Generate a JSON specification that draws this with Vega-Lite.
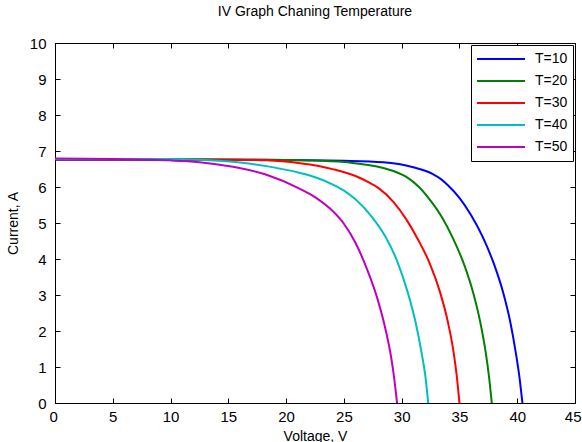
{
  "$schema": "https://vega.github.io/schema/vega-lite/v6.json",
  "autosize": {"type": "none"},
  "padding": {"left": 55, "top": 43, "right": 7, "bottom": 39},
  "width": 520,
  "height": 360,
  "background": "white",
  "config": {
    "view": {"stroke": "#000000", "strokeWidth": 1},
    "font": "Liberation Sans",
    "axis": {
      "domainColor": "#000000",
      "tickColor": "#000000",
      "labelColor": "#000000",
      "titleColor": "#000000",
      "labelFont": "Liberation Sans",
      "titleFont": "Liberation Sans",
      "labelFontSize": 15,
      "titleFontSize": 14,
      "titleFontWeight": "normal",
      "grid": false,
      "tickSize": -5,
      "domain": true
    }
  },
  "title": {
    "text": "IV Graph Chaning Temperature",
    "font": "Liberation Sans",
    "fontSize": 14,
    "fontWeight": "normal",
    "color": "#000000",
    "offset": 17
  },
  "resolve": {"axis": {"x": "independent", "y": "independent"}},
  "data": {
    "values": [
      {"T": "T=10", "V": 0, "I": 6.76}, {"T": "T=10", "V": 10, "I": 6.76}, {"T": "T=10", "V": 20, "I": 6.75}, {"T": "T=10", "V": 25, "I": 6.73},
      {"T": "T=10", "V": 28.4, "I": 6.69}, {"T": "T=10", "V": 31.0, "I": 6.55}, {"T": "T=10", "V": 32.7, "I": 6.36}, {"T": "T=10", "V": 33.4, "I": 6.22},
      {"T": "T=10", "V": 34.0, "I": 6.05}, {"T": "T=10", "V": 35.0, "I": 5.70}, {"T": "T=10", "V": 36.0, "I": 5.22}, {"T": "T=10", "V": 37.0, "I": 4.62},
      {"T": "T=10", "V": 38.0, "I": 3.85}, {"T": "T=10", "V": 38.8, "I": 3.05}, {"T": "T=10", "V": 39.4, "I": 2.25}, {"T": "T=10", "V": 39.9, "I": 1.35},
      {"T": "T=10", "V": 40.2, "I": 0.70}, {"T": "T=10", "V": 40.45, "I": 0},

      {"T": "T=20", "V": 0, "I": 6.77}, {"T": "T=20", "V": 10, "I": 6.77}, {"T": "T=20", "V": 20, "I": 6.75}, {"T": "T=20", "V": 23, "I": 6.73},
      {"T": "T=20", "V": 25.5, "I": 6.68}, {"T": "T=20", "V": 28.4, "I": 6.53}, {"T": "T=20", "V": 29.4, "I": 6.43}, {"T": "T=20", "V": 30.4, "I": 6.28},
      {"T": "T=20", "V": 31.5, "I": 6.00}, {"T": "T=20", "V": 32.5, "I": 5.62}, {"T": "T=20", "V": 33.5, "I": 5.15}, {"T": "T=20", "V": 34.4, "I": 4.60},
      {"T": "T=20", "V": 35.4, "I": 3.85}, {"T": "T=20", "V": 36.2, "I": 3.05}, {"T": "T=20", "V": 36.8, "I": 2.25}, {"T": "T=20", "V": 37.3, "I": 1.35},
      {"T": "T=20", "V": 37.55, "I": 0.75}, {"T": "T=20", "V": 37.8, "I": 0},

      {"T": "T=30", "V": 0, "I": 6.77}, {"T": "T=30", "V": 10, "I": 6.77}, {"T": "T=30", "V": 15, "I": 6.76}, {"T": "T=30", "V": 18.3, "I": 6.74},
      {"T": "T=30", "V": 21.2, "I": 6.66}, {"T": "T=30", "V": 22.7, "I": 6.59}, {"T": "T=30", "V": 24.1, "I": 6.49}, {"T": "T=30", "V": 26.4, "I": 6.25},
      {"T": "T=30", "V": 27.2, "I": 6.12}, {"T": "T=30", "V": 28.0, "I": 5.97}, {"T": "T=30", "V": 29.3, "I": 5.58}, {"T": "T=30", "V": 30.4, "I": 5.10},
      {"T": "T=30", "V": 31.4, "I": 4.55}, {"T": "T=30", "V": 32.4, "I": 3.90}, {"T": "T=30", "V": 33.3, "I": 3.10}, {"T": "T=30", "V": 34.0, "I": 2.25},
      {"T": "T=30", "V": 34.5, "I": 1.40}, {"T": "T=30", "V": 34.75, "I": 0.80}, {"T": "T=30", "V": 35.0, "I": 0},

      {"T": "T=40", "V": 0, "I": 6.78}, {"T": "T=40", "V": 10, "I": 6.78}, {"T": "T=40", "V": 12.5, "I": 6.76}, {"T": "T=40", "V": 15.4, "I": 6.70},
      {"T": "T=40", "V": 18.3, "I": 6.58}, {"T": "T=40", "V": 21.2, "I": 6.39}, {"T": "T=40", "V": 22.7, "I": 6.25}, {"T": "T=40", "V": 24.1, "I": 6.06},
      {"T": "T=40", "V": 25.1, "I": 5.88}, {"T": "T=40", "V": 26.0, "I": 5.66}, {"T": "T=40", "V": 27.4, "I": 5.18}, {"T": "T=40", "V": 28.6, "I": 4.62},
      {"T": "T=40", "V": 29.6, "I": 3.95}, {"T": "T=40", "V": 30.5, "I": 3.10}, {"T": "T=40", "V": 31.2, "I": 2.25}, {"T": "T=40", "V": 31.75, "I": 1.35},
      {"T": "T=40", "V": 32.05, "I": 0.75}, {"T": "T=40", "V": 32.3, "I": 0},

      {"T": "T=50", "V": 0, "I": 6.79}, {"T": "T=50", "V": 5, "I": 6.78}, {"T": "T=50", "V": 8, "I": 6.76}, {"T": "T=50", "V": 10, "I": 6.74},
      {"T": "T=50", "V": 12.5, "I": 6.69}, {"T": "T=50", "V": 15.4, "I": 6.56}, {"T": "T=50", "V": 18.3, "I": 6.34}, {"T": "T=50", "V": 21.2, "I": 5.95},
      {"T": "T=50", "V": 22.5, "I": 5.72}, {"T": "T=50", "V": 23.8, "I": 5.40}, {"T": "T=50", "V": 25.0, "I": 4.98}, {"T": "T=50", "V": 26.0, "I": 4.45},
      {"T": "T=50", "V": 27.0, "I": 3.72}, {"T": "T=50", "V": 27.9, "I": 2.90}, {"T": "T=50", "V": 28.6, "I": 2.05}, {"T": "T=50", "V": 29.1, "I": 1.25},
      {"T": "T=50", "V": 29.35, "I": 0.70}, {"T": "T=50", "V": 29.6, "I": 0}
    ]
  },
  "layer": [
    {
      "mark": {"type": "line", "strokeWidth": 2, "interpolate": "monotone", "clip": true},
      "encoding": {
        "x": {
          "field": "V", "type": "quantitative",
          "scale": {"domain": [0, 45], "nice": false, "zero": false},
          "axis": {"orient": "bottom", "title": "Voltage, V", "values": [0, 5, 10, 15, 20, 25, 30, 35, 40, 45], "labelPadding": 11, "titlePadding": 5, "labelFlush": true, "labelFlushOffset": 6}
        },
        "y": {
          "field": "I", "type": "quantitative",
          "scale": {"domain": [0, 10], "nice": false, "zero": false},
          "axis": {"orient": "left", "title": "Current, A", "values": [0, 1, 2, 3, 4, 5, 6, 7, 8, 9, 10], "labelPadding": 14, "titlePadding": 9, "labelFlush": false}
        },
        "color": {
          "field": "T", "type": "nominal",
          "scale": {"domain": ["T=10", "T=20", "T=30", "T=40", "T=50"], "range": ["#0000FF", "#008000", "#FF0000", "#00BFBF", "#BF00BF"]},
          "legend": {
            "title": null,
            "orient": "top-right",
            "offset": 2,
            "fillColor": "white",
            "strokeColor": "#000000",
            "padding": 5,
            "symbolType": "stroke",
            "symbolSize": 2304,
            "symbolStrokeWidth": 2,
            "clipHeight": 18,
            "labelOffset": 9,
            "labelFont": "Liberation Sans",
            "labelFontSize": 14,
            "labelColor": "#000000",
            "rowPadding": 4
          }
        }
      }
    },
    {
      "mark": {"type": "rule", "opacity": 0},
      "encoding": {
        "x": {"datum": 0, "type": "quantitative", "scale": {"domain": [0, 45], "nice": false, "zero": false}, "axis": {"orient": "top", "labels": false, "title": null, "values": [0, 5, 10, 15, 20, 25, 30, 35, 40, 45], "domain": false}},
        "y": {"datum": 0, "type": "quantitative", "scale": {"domain": [0, 10], "nice": false, "zero": false}, "axis": {"orient": "right", "labels": false, "title": null, "values": [0, 1, 2, 3, 4, 5, 6, 7, 8, 9, 10], "domain": false}}
      }
    }
  ]
}
